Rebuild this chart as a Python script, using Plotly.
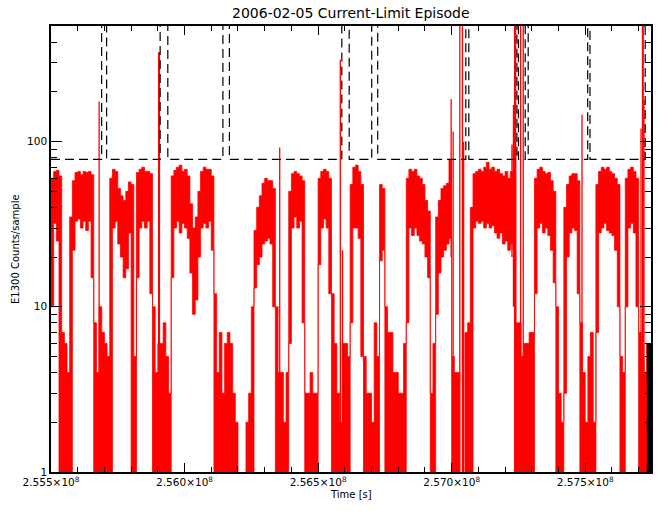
import plotly.graph_objects as go

# ---------------- data ----------------
# sample-column start times (ks) of the E1300 count-rate record
T_KS = [
    255500, 255510, 255520, 255530, 255540, 255550, 255560, 255570, 255580, 255590,
    255600, 255610, 255620, 255630, 255640, 255650, 255660, 255670, 255680, 255690,
    255700, 255710, 255720, 255730, 255740, 255750, 255760, 255770, 255780, 255790,
    255800, 255810, 255820, 255830, 255840, 255850, 255860, 255870, 255880, 255890,
    255900, 255910, 255920, 255930, 255940, 255950, 255960, 255970, 255980, 255990,
    256000, 256010, 256020, 256030, 256040, 256050, 256060, 256070, 256080, 256090,
    256100, 256110, 256120, 256130, 256140, 256150, 256160, 256170, 256180, 256190,
    256200, 256210, 256220, 256230, 256240, 256250, 256260, 256270, 256280, 256290,
    256300, 256310, 256320, 256330, 256340, 256350, 256360, 256370, 256380, 256390,
    256400, 256410, 256420, 256430, 256440, 256450, 256460, 256470, 256480, 256490,
    256500, 256510, 256520, 256530, 256540, 256550, 256560, 256570, 256580, 256590,
    256600, 256610, 256620, 256630, 256640, 256650, 256660, 256670, 256680, 256690,
    256700, 256710, 256720, 256730, 256740, 256750, 256760, 256770, 256780, 256790,
    256800, 256810, 256820, 256830, 256840, 256850, 256860, 256870, 256880, 256890,
    256900, 256910, 256920, 256930, 256940, 256950, 256960, 256970, 256980, 256990,
    257000, 257010, 257020, 257030, 257040, 257050, 257060, 257070, 257080, 257090,
    257100, 257110, 257120, 257130, 257140, 257150, 257160, 257170, 257180, 257190,
    257200, 257210, 257220, 257230, 257240, 257250, 257260, 257270, 257280, 257290,
    257300, 257310, 257320, 257330, 257340, 257350, 257360, 257370, 257380, 257390,
    257400, 257410, 257420, 257430, 257440, 257450, 257460, 257470, 257480, 257490,
    257500, 257510, 257520, 257530, 257540, 257550, 257560, 257570, 257580, 257590,
    257600, 257610, 257620, 257630, 257640, 257650, 257660, 257670, 257680, 257690,
    257700, 257710, 257720, 257730, 257740,
]
# minimum counts/sample in each column (0 = no counts)
COUNTS_MIN = [
    10, 32, 25, 0, 0, 0, 0, 0, 22, 33,
    34, 30, 33, 29, 33, 15, 0, 0, 0, 0,
    0, 0, 0, 30, 33, 24, 20, 15, 17, 28,
    0, 0, 15, 30, 33, 30, 33, 12, 0, 0,
    0, 0, 0, 0, 0, 15, 30, 33, 28, 32,
    30, 26, 16, 9, 11, 20, 30, 32, 30, 33,
    22, 0, 0, 0, 0, 0, 0, 0, 0, 0,
    0, 0, 0, 0, 0, 0, 13, 18, 20, 24,
    25, 26, 24, 10, 0, 0, 0, 0, 0, 6,
    30, 35, 30, 33, 8, 0, 0, 0, 0, 0,
    18, 30, 34, 30, 12, 0, 0, 0, 0, 0,
    0, 0, 8, 30, 30, 26, 5, 0, 0, 0,
    0, 0, 0, 19, 22, 0, 0, 0, 0, 0,
    0, 0, 0, 8, 30, 27, 30, 27, 25, 24,
    20, 15, 0, 0, 9, 16, 20, 22, 24, 26,
    0, 0, 0, 0, 0, 0, 0, 0, 30, 33,
    32, 33, 30, 32, 30, 31, 28, 26, 28, 24,
    25, 22, 24, 22, 0, 0, 0, 0, 0, 0,
    0, 12, 30, 32, 28, 30, 27, 22, 14, 0,
    0, 0, 3, 20, 28, 30, 29, 12, 0, 0,
    0, 0, 0, 0, 7, 28, 30, 32, 29, 28,
    27, 22, 10, 0, 0, 10, 30, 32, 28, 10,
    0, 0, 0, 0, 0,
]
# maximum counts/sample in each column
COUNTS_MAX = [
    60, 66, 67, 62, 7, 6, 4, 35, 58, 65,
    66, 63, 66, 65, 66, 63, 8, 4, 10, 7,
    6, 5, 60, 68, 66, 52, 47, 44, 50, 57,
    55, 5, 65, 68, 70, 66, 66, 64, 10, 4,
    6, 6, 8, 5, 3, 62, 67, 70, 72, 66,
    68, 62, 42, 30, 35, 50, 66, 70, 68, 68,
    62, 12, 4, 7, 3, 6, 7, 6, 3, 2,
    0, 0, 0, 2, 3, 10, 29, 40, 47, 56,
    60, 58, 58, 52, 10, 4, 4, 2, 4, 50,
    64, 66, 64, 62, 58, 3, 3, 4, 3, 3,
    60, 66, 68, 66, 60, 12, 6, 3, 2, 6,
    6, 5, 55, 70, 72, 66, 55, 5, 3, 3,
    2, 8, 5, 55, 52, 10, 7, 7, 4, 4,
    3, 3, 6, 60, 68, 66, 68, 62, 60, 55,
    44, 38, 3, 6, 35, 44, 52, 54, 56, 78,
    5, 4, 4, 0, 0, 7, 8, 40, 64, 66,
    68, 66, 70, 75, 68, 70, 66, 68, 64, 62,
    66, 60, 66, 95, 8, 8, 5, 6, 6, 7,
    7, 60, 68, 70, 66, 64, 65, 58, 50, 10,
    3, 2, 40, 55, 62, 64, 64, 58, 8, 4,
    2, 5, 7, 2, 55, 66, 70, 68, 70, 66,
    64, 60, 55, 5, 4, 60, 68, 70, 66, 60,
    7, 5, 4, 6, 6,
]
# isolated single-sample spikes: time (ks), low and high counts (999 = off scale)
SPIKE_T_KS = [255680.2, 255903.0, 255906.0, 256356.3, 256583.2, 256591.4,
              256998.1, 257005.6, 257030.6, 257040.3, 257044.8, 257225.7,
              257231.3, 257235.8, 257239.5, 257258.2, 257267.9, 257488.0,
              257708.9, 257714.5, 257717.1, 257720.1]
SPIKE_LO = [0, 0, 0, 0, 0, 0, 20, 0, 0, 0, 0, 20, 10, 0, 0, 0, 0, 0, 0, 0, 0, 0]
SPIKE_HI = [175, 348, 348, 92, 313, 22, 181, 115, 999, 999, 100, 96,
            167, 999, 999, 999, 999, 146, 120, 999, 999, 178]
# current-limit threshold (dashed); 10000 marks the limit-exceeded intervals
LIMIT_T_KS = [255500, 255689.6, 255708.2, 255908.6, 255937.3, 256143.6, 256167.9,
              256588.8, 256616.4, 256700.7, 256723.1, 257053.0, 257064.2,
              257244.4, 257250.0, 257275.4, 257286.5, 257509.3, 257517.9,
              257724.6, 257770.0]
LIMIT_V = [78, 10000, 78, 10000, 78, 10000, 78, 10000, 78, 10000, 78,
           10000, 78, 10000, 78, 10000, 78, 10000, 78, 10000, 10000]
# trailing black segment
BLACK_T_KS = [257730.6, 257770.0]
BLACK_V = [6, 6]

X_TICKS = [2.555e8, 2.560e8, 2.565e8, 2.570e8, 2.575e8]
X_TICK_TEXT = ["2.555\u00d710<sup>8</sup>", "2.560\u00d710<sup>8</sup>",
               "2.565\u00d710<sup>8</sup>", "2.570\u00d710<sup>8</sup>",
               "2.575\u00d710<sup>8</sup>"]
Y_TICKS = [1, 10, 100]
Y_TICK_TEXT = ["1", "10", "100"]

FLOOR = 0.5  # zero counts drawn below the log axis floor

# ---------------- figure ----------------
t = [v * 1000 for v in T_KS]
lo = [v if v > 0 else FLOOR for v in COUNTS_MIN]
hi = [v if v > 0 else FLOOR for v in COUNTS_MAX]

fig = go.Figure()
fig.add_trace(go.Scatter(x=t, y=lo, mode="lines", line=dict(color="red", width=0.8, shape="hv"),
                         showlegend=False, hoverinfo="skip"))
fig.add_trace(go.Scatter(x=t, y=hi, mode="lines", line=dict(color="red", width=0.8, shape="hv"),
                         fill="tonexty", fillcolor="red", showlegend=False, hoverinfo="skip"))

sx, sy = [], []
for ts, a, b in zip(SPIKE_T_KS, SPIKE_LO, SPIKE_HI):
    sx += [ts * 1000, ts * 1000, None]
    sy += [a if a > 0 else FLOOR, b, None]
fig.add_trace(go.Scatter(x=sx, y=sy, mode="lines", line=dict(color="red", width=1.3),
                         showlegend=False, hoverinfo="skip"))

bt = [v * 1000 for v in BLACK_T_KS]
fig.add_trace(go.Scatter(x=bt, y=[FLOOR] * len(bt), mode="lines",
                         line=dict(color="black", width=0.5, shape="hv"), showlegend=False))
fig.add_trace(go.Scatter(x=bt, y=BLACK_V, mode="lines", line=dict(color="black", width=1, shape="hv"),
                         fill="tonexty", fillcolor="black", showlegend=False))

fig.add_trace(go.Scatter(x=[v * 1000 for v in LIMIT_T_KS], y=LIMIT_V, mode="lines",
                         line=dict(color="black", width=1.2, shape="hv", dash="9px,5px"),
                         showlegend=False, hoverinfo="skip"))

FONT = "DejaVu Sans"
x_minor = [2.555e8 + k * 1e5 for k in range(0, 23)]
y_minor = [2, 3, 4, 5, 6, 7, 8, 9, 20, 30, 40, 50, 60, 70, 80, 90, 200, 300, 400, 500]

fig.update_layout(
    width=664, height=511,
    margin=dict(l=51, r=11, t=26, b=39),
    paper_bgcolor="white", plot_bgcolor="white",
    font=dict(family=FONT, size=11, color="black"),
    showlegend=False,
    xaxis=dict(range=[2.555e8, 2.5774630e8], showgrid=False, zeroline=False,
               showline=True, linecolor="black", linewidth=1.5, mirror="ticks",
               ticks="inside", ticklen=9, tickwidth=1, tickcolor="black",
               tickmode="array", tickvals=X_TICKS, ticktext=X_TICK_TEXT,
               tickfont=dict(family=FONT, size=10.5),
               minor=dict(tickmode="array", tickvals=x_minor, ticks="inside",
                          ticklen=5, tickwidth=1, tickcolor="black", showgrid=False)),
    yaxis=dict(type="log", range=[0, 2.7], showgrid=False, zeroline=False,
               showline=True, linecolor="black", linewidth=1.5, mirror="ticks",
               ticks="inside", ticklen=11, tickwidth=1, tickcolor="black",
               tickmode="array", tickvals=Y_TICKS, ticktext=Y_TICK_TEXT,
               tickfont=dict(family=FONT, size=10.5),
               minor=dict(tickmode="array", tickvals=y_minor, ticks="inside",
                          ticklen=6, tickwidth=1, tickcolor="black", showgrid=False)),
    annotations=[
        dict(text="2006-02-05 Current-Limit Episode", xref="paper", yref="paper",
             x=0.5, y=1, yshift=3, xanchor="center", yanchor="bottom", showarrow=False,
             font=dict(family=FONT, size=14)),
        dict(text="Time [s]", xref="paper", yref="paper", x=0.5, y=0, yshift=-22,
             xanchor="center", yanchor="middle", showarrow=False, font=dict(family=FONT, size=10)),
        dict(text="E1300 Counts/sample", xref="paper", yref="paper", x=0, y=0.5,
             xshift=-36, xanchor="center", yanchor="middle", textangle=-90,
             showarrow=False, font=dict(family=FONT, size=10)),
    ],
)

fig.write_html("out.html")
